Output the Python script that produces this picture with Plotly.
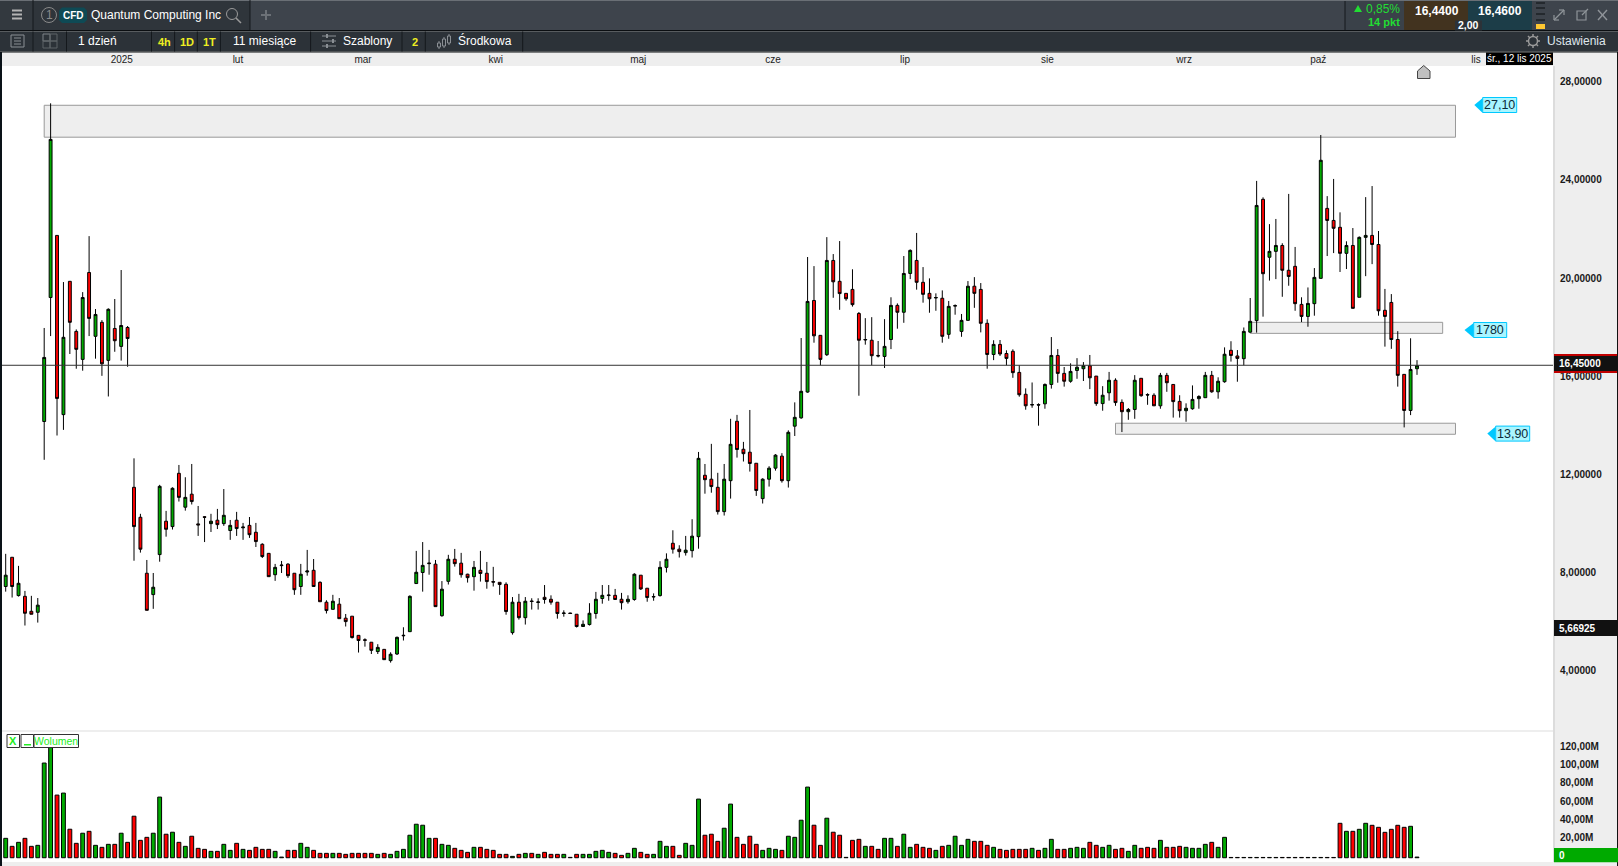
import plotly.graph_objects as go

# ---------- data ----------
opens = [7.44,8.63,7.07,7.04,6.43,6.39,14.16,19.21,21.74,14.44,
19.87,17.83,16.69,20.23,17.63,18.20,16.65,17.95,17.22,17.99,
11.48,10.26,7.98,7.11,8.74,10.10,9.88,12.05,10.67,11.20,
9.99,10.28,10.00,10.14,10.00,9.72,10.14,9.83,9.93,9.65,
9.16,8.79,7.92,8.29,8.35,7.98,7.44,8.03,8.10,7.61,
6.80,6.51,6.72,6.15,6.23,5.45,5.27,5.17,4.79,4.88,
4.42,4.69,5.43,5.60,7.56,8.01,8.37,8.35,6.25,7.65,
8.55,8.39,7.94,7.84,8.10,7.98,7.64,7.61,7.53,5.56,
6.80,6.17,6.85,6.79,7.00,6.92,6.80,6.34,6.36,6.31,
5.81,5.89,6.34,6.95,7.07,7.08,6.92,6.82,6.91,7.90,
7.37,7.01,7.07,8.22,9.20,8.96,8.82,8.90,9.47,11.97,
11.81,11.48,10.49,11.75,14.17,13.03,12.91,12.46,11.02,11.81,
12.26,12.75,11.75,13.97,14.31,15.36,19.09,17.67,16.88,20.72,
19.87,19.38,19.54,18.56,17.48,17.47,16.85,16.81,17.50,18.89,
18.61,20.19,20.72,19.83,19.38,19.19,19.18,17.71,18.86,17.83,
18.28,19.67,19.54,18.16,16.89,17.30,16.93,17.02,16.16,15.27,
14.83,14.85,14.88,15.67,16.85,16.12,15.80,16.24,16.31,16.43,
16.01,14.89,15.33,15.84,14.94,14.56,14.65,15.92,15.26,15.23,
14.80,16.04,15.67,14.98,14.60,14.68,15.09,15.13,16.04,15.37,
15.78,17.06,16.83,16.72,17.80,18.27,23.21,20.85,21.09,21.33,
20.32,20.48,18.93,18.44,18.96,19.99,22.84,22.35,22.07,21.01,
21.33,19.22,21.66,21.74,21.37,18.69,19.01,17.50,16.08,14.61,16.31]

closes = [7.90,7.44,7.57,6.35,6.31,6.68,16.77,25.65,15.10,17.59,
18.20,17.10,19.21,18.36,18.52,16.51,18.73,17.45,18.07,17.54,
9.88,8.96,6.47,7.41,11.52,9.77,11.44,11.07,11.07,10.90,
9.95,10.26,10.10,9.96,10.34,9.93,9.80,9.86,9.55,9.27,
8.66,7.84,8.22,8.31,7.88,7.31,7.94,8.07,7.44,6.82,
6.46,6.84,6.13,6.01,5.36,5.24,5.25,4.84,4.96,4.46,
4.68,5.37,5.45,7.04,8.02,8.30,8.39,6.62,7.33,8.55,
8.37,7.92,7.80,8.22,7.97,7.64,7.62,7.52,6.42,6.80,
6.17,6.84,6.83,6.81,6.91,6.80,6.34,6.36,6.34,5.81,
5.90,6.35,6.92,7.08,7.09,6.91,6.78,6.92,7.94,7.34,
6.99,7.03,8.22,8.55,8.96,8.86,8.92,9.49,12.66,11.79,
11.51,10.49,11.81,13.23,13.02,12.85,12.45,11.35,11.81,12.26,
12.79,11.75,13.72,14.33,15.39,19.05,17.65,16.69,20.72,19.85,
19.37,19.16,18.92,17.47,17.50,16.84,16.83,17.22,18.89,18.61,
20.19,21.13,19.83,19.34,19.16,19.21,17.63,18.85,18.88,18.28,
19.67,19.38,18.16,16.89,17.30,16.91,16.73,16.15,15.25,14.80,
14.85,14.83,15.67,16.85,16.12,15.80,16.20,16.37,16.43,15.94,
14.89,15.23,15.84,14.93,14.56,14.65,15.84,15.21,15.24,14.80,
16.04,15.74,14.97,14.60,14.70,15.06,15.18,16.04,15.37,15.80,
16.90,16.85,16.73,17.83,18.24,22.96,20.18,21.09,21.33,20.32,
20.07,18.96,18.44,18.97,20.03,24.80,22.35,22.03,21.01,21.33,
18.77,21.66,21.74,21.37,18.67,18.44,17.50,16.04,14.61,16.28,16.43]

highs = [8.77,8.63,8.28,7.26,7.06,6.97,17.97,27.12,21.74,19.84,
19.87,17.91,19.43,21.71,18.74,18.29,18.77,19.15,20.33,18.05,
12.66,10.40,8.52,7.99,11.58,10.52,11.48,12.39,11.89,12.43,
10.72,10.30,10.40,10.60,11.41,10.15,10.48,10.03,10.27,10.03,
9.20,8.79,8.36,8.48,8.39,7.98,8.36,8.93,8.56,7.65,
6.88,7.10,6.97,6.32,6.23,5.45,5.33,5.17,5.09,4.88,
4.76,5.40,5.78,7.08,8.89,9.25,8.93,8.52,7.66,8.73,
8.97,8.81,7.96,8.48,8.89,8.44,8.24,7.61,7.61,7.01,
7.14,7.01,6.96,6.96,7.50,7.08,6.80,6.47,6.37,6.31,
6.06,6.76,7.22,7.50,7.50,7.34,7.18,7.08,7.98,7.90,
7.37,7.16,8.47,8.79,9.73,9.12,9.50,10.18,12.92,12.43,
13.25,12.07,12.43,14.27,14.43,13.33,14.63,12.46,11.85,12.34,
12.83,12.87,13.80,14.94,17.56,20.86,20.49,17.67,21.67,20.98,
21.51,19.38,20.36,18.62,18.37,18.41,17.44,18.33,19.22,18.97,
20.90,21.17,21.84,20.45,19.99,19.38,19.50,19.07,18.93,18.54,
19.88,20.04,19.80,18.32,17.47,17.48,17.06,17.10,16.45,15.51,
15.75,14.90,15.71,17.60,17.11,16.38,16.53,16.74,16.58,16.87,
16.01,15.60,16.18,15.92,15.06,14.71,16.05,15.92,15.31,15.31,
16.14,16.14,15.67,15.23,14.90,15.63,15.23,16.18,16.22,15.96,
17.18,17.43,17.07,17.99,19.19,23.96,23.29,22.20,22.41,21.42,
23.43,21.27,19.22,19.62,20.41,25.83,23.34,24.04,22.68,21.50,
22.04,21.70,23.30,23.75,21.92,19.56,19.35,17.84,16.08,17.55,16.66]

lows = [7.23,6.99,7.03,5.85,6.31,5.97,12.60,17.64,13.59,13.82,
16.91,16.31,16.23,17.64,16.72,16.02,15.18,17.00,16.64,16.39,
8.49,8.82,6.47,6.53,8.45,9.47,9.76,10.90,10.53,10.78,
9.50,9.25,9.66,9.78,9.91,9.34,9.50,9.34,9.42,9.05,
8.60,7.84,7.67,7.99,7.79,7.10,7.10,7.88,7.44,6.82,
6.34,6.51,6.13,5.81,5.32,4.75,4.99,4.69,4.69,4.46,
4.34,4.65,5.24,5.60,7.56,7.23,7.92,6.62,6.21,7.52,
8.25,7.80,7.60,7.27,7.64,7.35,7.44,7.10,6.29,5.48,
6.09,5.89,6.50,6.50,6.74,6.70,6.13,6.21,6.34,5.77,
5.81,5.85,6.13,6.74,6.86,6.91,6.50,6.74,6.86,7.30,
6.82,6.86,7.03,8.01,8.78,8.62,8.70,8.62,8.98,11.22,
11.26,10.37,10.33,11.02,12.69,12.53,12.12,11.13,10.82,11.51,
12.16,11.67,11.47,13.57,14.27,15.33,17.37,16.45,16.83,19.20,
18.71,19.08,18.84,15.21,17.29,16.45,16.77,16.34,17.11,17.94,
18.18,19.96,19.53,19.00,18.59,18.67,17.37,17.53,18.51,17.61,
18.28,18.79,17.79,16.31,16.66,16.83,16.45,15.94,15.17,14.64,
14.72,13.99,14.68,15.50,15.74,15.58,15.74,15.90,15.81,15.48,
14.80,14.60,15.01,14.80,13.73,14.23,14.27,15.17,14.84,14.80,
14.68,15.37,14.32,14.32,14.15,14.64,14.68,15.13,15.33,15.09,
15.74,16.60,15.78,16.45,17.78,17.78,18.43,19.90,19.96,19.24,
19.69,18.67,18.21,18.02,18.47,19.99,20.90,21.02,20.25,20.37,
18.77,19.22,20.08,20.57,18.47,17.21,17.12,15.58,13.92,14.42,16.06]

volumes_m = [21.3,12.5,16.9,21.3,12.5,13.6,104,125,68.8,71,
31.3,15.8,26.9,29,13.6,11.4,14.7,14.7,26.9,16.9,
45.6,19.1,22.4,26.9,66.6,25.8,28,16.9,12.5,23.6,
10.3,9.2,7,7,14.7,8.1,15.8,9.2,8.1,11.4,
9.2,9.2,7,0.7,8.1,8.1,15.8,11.4,8.1,4.8,
4.8,4.8,4.8,3.7,4.8,4.8,4.8,4.8,3.7,4.8,
3.7,7,9.2,24.7,36.8,35.7,21.3,21.3,14.7,13.6,
10.3,8.1,5.9,11.4,11.4,9.2,8.1,3.7,3.7,1.5,
3.7,4.8,4.8,3.7,5.9,3.7,3.7,3.7,0.4,3.7,
3.7,3.7,7,8.1,5.9,4.8,2.6,4.8,10.3,5.9,
3.7,3.7,18,12.5,12.5,2.6,15.8,13.6,64.4,24.7,
25.8,18,32.4,58.9,22.4,14.7,23.6,14.7,8.1,10.3,
9.2,8.1,23.6,22.4,41.2,77.6,35.7,13.6,43.4,28,
24.7,0.4,19.1,20.2,12.5,12.5,9.2,21.3,21.3,12.5,
25.8,11.4,14.7,11.4,10.3,8.1,12.5,13.6,23.6,13.6,
20.2,18,18,13.6,11.4,9.2,8.1,9.2,9.2,9.2,
10.3,8.1,10.3,20.2,9.2,9.2,10.3,11.4,10.3,16.9,
13.6,11.4,13.6,9.2,10.3,7,13.6,10.3,11.4,10.3,
19.1,11.4,11.4,12.5,11.4,10.3,10.3,14.7,16.9,11.4,
22.4,0.3,0.3,0.3,0.3,0.3,0.3,0.3,0.3,0.3,
0.3,0.3,0.3,0.3,0.3,0.3,0.3,0.3,37.8,29,
29,31.2,37.8,35.6,33.4,27.9,31.2,35.6,33.4,34.5,0.7]

month_labels = ["2025","lut","mar","kwi","maj","cze","lip","sie","wrz","paź","lis"]
month_positions = [18.1,36.2,55.7,76.4,98.6,119.6,140.2,162.4,183.7,204.6,229.2]
price_ticks = [4,8,12,16,20,24,28]
volume_ticks = [20,40,60,80,100,120]
volume_tick_labels = ["20,00M","40,00M","60,00M","80,00M","100,00M","120,00M"]
last_price = 16.45
zones = [(6,226,25.74,27.04),(194,224,17.75,18.20),(173,226,13.64,14.09)]

# ---------- pixel helpers for the terminal chrome ----------
W, H = 1618, 866
FONT = "Liberation Sans"
GREEN, RED = "#00aa00", "#ff0000"
LIME = "#22dd33"
px = lambda v: v / W
py = lambda v: 1 - v / H
shapes, notes = [], []

def rect(x0, y0, x1, y1, fill, line=None, lw=1, layer="above"):
    shapes.append(dict(type="rect", xref="paper", yref="paper", x0=px(x0), x1=px(x1), y0=py(y0), y1=py(y1),
                       fillcolor=fill, line=dict(color=line or fill, width=lw if line else 0), layer=layer))

def seg(x0, y0, x1, y1, color, lw=1, dash="solid"):
    shapes.append(dict(type="line", xref="paper", yref="paper", x0=px(x0), x1=px(x1), y0=py(y0), y1=py(y1),
                       line=dict(color=color, width=lw, dash=dash), layer="above"))

def poly(pts, fill, line=None, lw=1):
    d = "M " + " L ".join(f"{px(a)},{py(b)}" for a, b in pts) + " Z"
    shapes.append(dict(type="path", xref="paper", yref="paper", path=d, fillcolor=fill,
                       line=dict(color=line or fill, width=lw if line else 0), layer="above"))

def circ(cx, cy, r, line, fill="rgba(0,0,0,0)", lw=1):
    shapes.append(dict(type="circle", xref="paper", yref="paper", x0=px(cx-r), x1=px(cx+r), y0=py(cy+r), y1=py(cy-r),
                       fillcolor=fill, line=dict(color=line, width=lw), layer="above"))

def text(x, y, s, color="#ffffff", size=12, anchor="center", bold=False):
    notes.append(dict(xref="paper", yref="paper", x=px(x), y=py(y), text=f"<b>{s}</b>" if bold else s,
                      showarrow=False, xanchor=anchor, yanchor="middle",
                      font=dict(family=FONT, size=size, color=color), borderpad=0, borderwidth=0))

# strips
rect(0, 52, 1618, 66, "#eeeeee", layer="below")
rect(1553, 66, 1618, 866, "#eeeeee", layer="below")
rect(1553, 66, 1555, 866, "#dcdcdc", layer="below")
rect(0, 730, 1553, 732, "#eeeeee", layer="below")
rect(0, 862, 1618, 866, "#eeeeee")
rect(0, 52, 2, 866, "#0a1218")
rect(1617, 52, 1618, 866, "#111111")

# top row
rect(0, 0, 1618, 30, "#3e444c")
rect(0, 0, 1618, 1, "#6a6f75")
rect(0, 1, 33, 30, "#33393f")
rect(33, 1, 250, 30, "#2f353b")
seg(33, 0, 33, 30, "#14181c")
seg(250, 0, 250, 30, "#14181c")
rect(0, 30, 1618, 31.5, "#0b0e11")
for yy in (10.5, 14.5, 18.5):
    rect(12, yy-1, 22, yy+1, "#b4b4b4")
circ(49, 15, 7.5, "#8a8a8a")
text(49, 15, "1", "#8a8a8a", 12)
poly([(62,7.5),(84,7.5),(87,10.5),(87,20),(84,23),(62,23),(59,20),(59,10.5)], "#0e4a55")
text(73, 15.5, "CFD", "#ffffff", 10, bold=True)
text(91, 14.7, "Quantum Computing Inc", "#ffffff", 12, anchor="left")
circ(232, 14, 5.5, "#9a9a9a")
seg(236, 18, 241, 23, "#9a9a9a", 1.5)
seg(261, 15, 271, 15, "#6c7177", 2)
seg(266, 10, 266, 20, "#6c7177", 2)
# quote block
rect(1345, 1, 1404, 30, "#3a4149")
rect(1404, 1, 1468, 30, "#42331f")
rect(1468, 1, 1532, 30, "#1c3d48")
seg(1345, 1, 1345, 30, "#14181c")
poly([(1358,5),(1362,12),(1354,12)], LIME)
text(1366, 9, "0,85%", LIME, 12, anchor="left")
text(1400, 22, "14 pkt", LIME, 11, anchor="right", bold=True)
text(1437, 11, "16,4400", "#ffffff", 12, bold=True)
text(1500, 11, "16,4600", "#ffffff", 12, bold=True)
rect(1455, 20.5, 1482, 30.5, "#2c3238")
text(1468, 25.5, "2,00", "#ffffff", 10.5, bold=True)
for yy in (3, 8, 14, 20):
    seg(1536, yy, 1545, yy, "#0b0e11", 1)
rect(1536, 24, 1545, 29, "#ffc832")
seg(1554, 20, 1564, 10, "#8f9499", 1.2)
seg(1554, 15, 1554, 20, "#8f9499", 1.2)
seg(1554, 20, 1559, 20, "#8f9499", 1.2)
seg(1559, 10, 1564, 10, "#8f9499", 1.2)
seg(1564, 10, 1564, 15, "#8f9499", 1.2)
rect(1577, 11, 1586, 20, "rgba(0,0,0,0)", "#8f9499", 1.2)
seg(1582, 15, 1588, 9, "#8f9499", 1.2)
seg(1598, 10, 1607, 20, "#8f9499", 1.4)
seg(1607, 10, 1598, 20, "#8f9499", 1.4)

# second row
rect(0, 31.5, 1618, 51.5, "#2c3238")
rect(0, 51.5, 1618, 52.5, "#0b0e11")
for xx in (33, 66.5, 151.5, 174.6, 197.3, 220.4, 310.6, 402, 425.3, 522.7):
    seg(xx, 31.5, xx, 51.5, "#14181c")
rect(11, 35, 24, 47, "rgba(0,0,0,0)", "#8a8f94")
for yy in (38, 41, 44):
    seg(14, yy, 21, yy, "#8a8f94")
rect(43, 34, 50, 41, "rgba(0,0,0,0)", "#7d8287")
rect(50, 34, 57, 41, "rgba(0,0,0,0)", "#5d6267")
rect(43, 41, 50, 48, "rgba(0,0,0,0)", "#5d6267")
rect(50, 41, 57, 48, "rgba(0,0,0,0)", "#5d6267")
text(97.5, 40.7, "1 dzień", "#ffffff", 12)
text(164, 41.5, "4h", "#eeee22", 11, bold=True)
text(186.7, 41.5, "1D", "#eeee22", 11, bold=True)
text(209.7, 41.5, "1T", "#eeee22", 11, bold=True)
text(264, 40.7, "11 miesiące", "#ffffff", 12)
for yy, a in ((36, 327), (41, 333), (46, 327)):
    seg(322, yy, 336, yy, "#8a8f94", 1)
    rect(a-1, yy-2, a+1, yy+2, "#8a8f94")
text(367.5, 40.7, "Szablony", "#ffffff", 12)
text(414.6, 41.5, "2", "#eeee22", 11, bold=True)
for xx, a, b in ((439, 43, 47), (444, 39, 46), (449, 36, 43)):
    seg(xx, a-2, xx, b+2, "#8a8f94", 1)
    rect(xx-1.5, a, xx+1.5, b, "#2c3238", "#8a8f94")
text(485, 40.7, "Środkowa", "#ffffff", 12)
circ(1533, 41, 4.5, "#9a9a9a", lw=1.5)
for a, b, c, d in ((1533,34,1533,37),(1533,45,1533,48),(1526,41,1529,41),(1537,41,1540,41),(1528,36,1530,38),(1536,44,1538,46),(1538,36,1536,38),(1528,46,1530,44)):
    seg(a, b, c, d, "#9a9a9a", 1.5)
text(1576.7, 40.7, "Ustawienia", "#dfe6ec", 12)

# date, price flags
rect(1486, 52.5, 1553, 65, "#000000")
text(1519.5, 58.7, "śr., 12 lis 2025", "#ffffff", 10)
poly([(1423.7,65.5),(1430,71),(1430,78.5),(1417.5,78.5),(1417.5,71)], "#c0c0c0", "#444444")
rect(1554, 354, 1617, 373, "#c00000")
rect(1554, 356, 1617, 371, "#111111")
text(1559, 363.5, "16,45000", "#ffffff", 10, anchor="left", bold=True)
rect(1554, 620, 1617, 636, "#111111")
text(1559, 628, "5,66925", "#ffffff", 10, anchor="left", bold=True)
rect(1554, 848, 1618, 862.3, GREEN)
text(1562, 855, "0", "#ffffff", 10, bold=True)

# zone tags
for tip, x0, x1, cy, s in ((1474.3, 1482.7, 1516.7, 105, "27,10"), (1464.5, 1473.7, 1506.7, 330, "1780"), (1487.3, 1495.7, 1529.7, 433.6, "13,90")):
    poly([(tip, cy), (x0, cy-7), (x0, cy+8)], "#00c8ff")
    rect(x0, cy-7.5, x1, cy+7.5, "#a9f5ff", "#00c8ff", 1)
    text((x0+x1)/2, cy, s, "#0a2a3a", 12.5)

# Wolumen legend
rect(7, 734.5, 19.5, 747.5, "#ffffff", "#333333")
rect(21, 734.5, 33.5, 747.5, "#ffffff", "#333333")
rect(34, 734.5, 78.5, 747.5, "#ffffff", "#333333")
text(13.2, 741, "X", "#22ee22", 11, bold=True)
rect(24, 744, 31, 745.5, "#22ee22")
text(56.2, 741, "Wolumen", "#22ee22", 10.5)

# data-positioned zones and last price line
for x0, x1, lo, hi in zones:
    shapes.append(dict(type="rect", xref="x", yref="y", x0=x0, x1=x1, y0=lo, y1=hi,
                       fillcolor="#eeeeee", line=dict(color="#999999", width=1), layer="below"))
shapes.append(dict(type="line", xref="paper", yref="y", x0=px(2), x1=px(1553), y0=last_price, y1=last_price,
                   line=dict(color="#333333", width=1), layer="above"))

# ---------- traces ----------
n = len(opens)
idx = list(range(n))
bar_colors = [GREEN if c >= o else RED for o, c in zip(opens, closes)]

fig = go.Figure()
fig.add_trace(go.Candlestick(x=idx, open=opens, high=highs, low=lows, close=closes, xaxis="x", yaxis="y",
                             whiskerwidth=0,
                             increasing=dict(line=dict(color="#000000", width=1), fillcolor=GREEN),
                             decreasing=dict(line=dict(color="#000000", width=1), fillcolor=RED),
                             showlegend=False))
fig.add_trace(go.Bar(x=idx, y=volumes_m, xaxis="x", yaxis="y2", width=0.6,
                     marker=dict(color=bar_colors, line=dict(color="#000000", width=1)), showlegend=False))

TICKFONT = dict(family=FONT, size=10, color="#1a1a1a", weight="bold")
fig.update_layout(
    width=W, height=H, margin=dict(l=0, r=0, t=0, b=0, autoexpand=False),
    paper_bgcolor="#ffffff", plot_bgcolor="#ffffff", separators=", ", boxgap=0.36,
    showlegend=False, hovermode=False, shapes=shapes, annotations=notes,
    xaxis=dict(domain=[px(2), px(1553)], range=[-0.577, 241.2], side="top", anchor="y", type="linear",
               rangeslider=dict(visible=False), showgrid=False, zeroline=False, showline=False,
               ticks="", tickvals=month_positions, ticktext=month_labels, tickangle=0,
               tickfont=dict(family=FONT, size=10, color="#222222"), automargin=False),
    yaxis=dict(domain=[py(730), py(66)], range=[1.595, 28.640], side="right", anchor="x",
               showgrid=False, zeroline=False, showline=False, ticks="outside", ticklen=4,
               tickcolor="rgba(0,0,0,0)", tickvals=price_ticks, tickformat=".5f",
               tickfont=TICKFONT, automargin=False),
    yaxis2=dict(domain=[py(862), py(732)], range=[-4.7, 138.1], side="right", anchor="x",
                showgrid=False, zeroline=False, showline=False, ticks="outside", ticklen=4,
                tickcolor="rgba(0,0,0,0)", tickvals=volume_ticks, ticktext=volume_tick_labels,
                ticklabelshift=-2, tickfont=TICKFONT, automargin=False),
)

fig.write_html("out.html", config=dict(displayModeBar=False),
               post_script="document.body.style.margin='0';document.body.style.overflow='hidden';")
